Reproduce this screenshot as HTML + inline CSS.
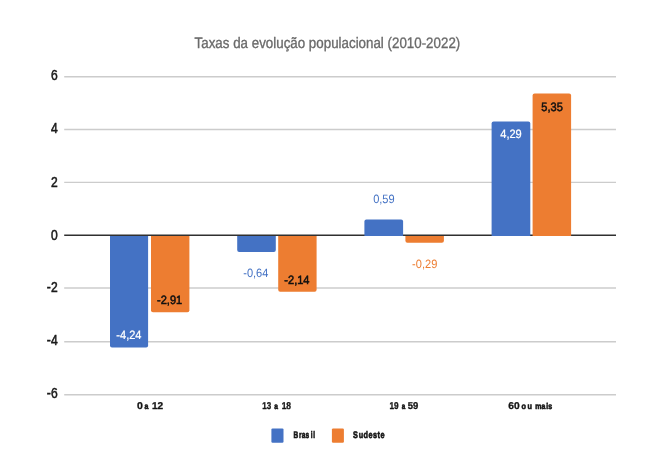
<!DOCTYPE html>
<html lang="pt-BR">
<head>
<meta charset="utf-8">
<title>Taxas da evolução populacional (2010-2022)</title>
<style>
html,body{margin:0;padding:0;background:#fff;}
body{width:652px;height:452px;overflow:hidden;position:relative;}
svg{display:block;position:absolute;left:0;top:0;}
text{font-family:"Liberation Sans",Arial,sans-serif;}
.ttl{font-size:15.2px;fill:#6a6a6a;stroke:#6a6a6a;stroke-width:0.35px;}
.yl{font-size:13.8px;fill:#1a1a1a;stroke:#1a1a1a;stroke-width:0.55px;text-anchor:end;}
.dl{font-size:12.1px;text-anchor:middle;}
.grid line{stroke:#cccccc;stroke-width:1.4;}
.tx text{font-size:9.9px;font-weight:bold;fill:#151515;stroke:#151515;stroke-width:0.3px;vector-effect:non-scaling-stroke;}
.tx text.lc{stroke-width:0.55px;vector-effect:non-scaling-stroke;}
</style>
</head>
<body>
<svg width="652" height="452" viewBox="0 0 652 452">
<rect x="0" y="0" width="652" height="452" fill="#ffffff"/>
<text class="ttl" transform="translate(194.6,47.9) scale(0.8789,1) skewX(0.1)">Taxas da evolução populacional (2010-2022)</text>
<g class="grid">
<line x1="64.2" x2="616" y1="76.7" y2="76.7"/>
<line x1="64.2" x2="616" y1="129.5" y2="129.5"/>
<line x1="64.2" x2="616" y1="182.35" y2="182.35"/>
<line x1="64.2" x2="616" y1="287.95" y2="287.95"/>
<line x1="64.2" x2="616" y1="341.8" y2="341.8"/>
<line x1="64.2" x2="616" y1="394.8" y2="394.8"/>
</g>
<g>
<text class="yl" transform="translate(57.6,79.6) scale(0.875,1)">6</text>
<text class="yl" transform="translate(57.6,132.5) scale(0.875,1)">4</text>
<text class="yl" transform="translate(57.6,186.6) scale(0.875,1)">2</text>
<text class="yl" transform="translate(57.6,239.5) scale(0.875,1)">0</text>
<text class="yl" transform="translate(57.6,292.3) scale(0.875,1)">-2</text>
<text class="yl" transform="translate(57.6,344.5) scale(0.875,1)">-4</text>
<text class="yl" transform="translate(57.6,397.6) scale(0.875,1)">-6</text>
</g>
<g fill="#4472c4">
<path d="M110 235.15H148.1V345.4a2 2 0 0 1 -2 2H112a2 2 0 0 1 -2 -2Z"/>
<path d="M237.2 235.15H275.8V250.1a2 2 0 0 1 -2 2H239.2a2 2 0 0 1 -2 -2Z"/>
</g>
<g fill="#ed7d31">
<path d="M151 235.15H189.4V310.2a2 2 0 0 1 -2 2H153a2 2 0 0 1 -2 -2Z"/>
<path d="M278.2 235.15H316.6V289.8a2 2 0 0 1 -2 2H280.2a2 2 0 0 1 -2 -2Z"/>
<path d="M405.4 235.15H443.9V240.8a2 2 0 0 1 -2 2H407.4a2 2 0 0 1 -2 -2Z"/>
</g>
<line x1="64.2" x2="616" y1="235.25" y2="235.25" stroke="#303030" stroke-width="1.5"/>
<g fill="#4472c4">
<path d="M364.4 235.9H403.1V221.5a2 2 0 0 0 -2 -2H366.4a2 2 0 0 0 -2 2Z"/>
<path d="M491.6 235.9H530.3V123.6a2 2 0 0 0 -2 -2H493.6a2 2 0 0 0 -2 2Z"/>
</g>
<g fill="#ed7d31">
<path d="M532.6 235.9H571.1V95.5a2 2 0 0 0 -2 -2H534.6a2 2 0 0 0 -2 2Z"/>
</g>

<g>
<text class="dl" transform="translate(128.9,338.8) scale(0.915,1) skewX(0.1)" fill="#ffffff" stroke="#ffffff" stroke-width="0.25">-4,24</text>
<text class="dl" transform="translate(169.6,303.7) scale(0.915,1) skewX(0.1)" fill="#111111" stroke="#111111" stroke-width="0.55">-2,91</text>
<text class="dl" transform="translate(255.8,277.3) scale(0.915,1) skewX(0.1)" fill="#4472c4">-0,64</text>
<text class="dl" transform="translate(296.9,283.8) scale(0.915,1) skewX(0.1)" fill="#111111" stroke="#111111" stroke-width="0.55">-2,14</text>
<text class="dl" transform="translate(383.9,202.6) scale(0.915,1) skewX(0.1)" fill="#4472c4">0,59</text>
<text class="dl" transform="translate(424.7,268.2) scale(0.915,1) skewX(0.1)" fill="#ed7d31">-0,29</text>
<text class="dl" transform="translate(511,138.2) scale(0.915,1) skewX(0.1)" fill="#ffffff" stroke="#ffffff" stroke-width="0.25">4,29</text>
<text class="dl" transform="translate(552.1,111.2) scale(0.915,1) skewX(0.1)" fill="#111111" stroke="#111111" stroke-width="0.55">5,35</text>
</g>
<g>
<rect x="271.4" y="428.4" width="12.1" height="14.3" rx="1.2" fill="#4472c4"/>
<rect x="331.9" y="428.4" width="12.0" height="14.3" rx="1.2" fill="#ed7d31"/>
</g>
<g class="tx"><text transform="translate(137.06,409.3) scale(1.069,1.0) skewX(0.1)">0</text> <text class="lc" transform="translate(144.57,409.3) scale(0.709,0.85) skewX(0.1)">a</text> <text transform="translate(151.95,409.3) scale(1.024,1.0) skewX(0.1)">12</text></g>
<g class="tx"><text transform="translate(262.28,409.3) scale(0.811,1.0) skewX(0.1)">13</text> <text class="lc" transform="translate(274.28,409.3) scale(0.672,0.85) skewX(0.1)">a</text> <text transform="translate(281.65,409.3) scale(0.857,1.0) skewX(0.1)">18</text></g>
<g class="tx"><text transform="translate(389.46,409.3) scale(0.832,1.0) skewX(0.1)">19</text> <text class="lc" transform="translate(401.69,409.3) scale(0.634,0.85) skewX(0.1)">a</text> <text transform="translate(407.69,409.3) scale(0.961,1.0) skewX(0.1)">59</text></g>
<g class="tx"><text transform="translate(508.30,409.3) scale(1.038,1.0) skewX(0.1)">60</text> <text class="lc" dx="0 2.17" transform="translate(521.49,409.3) scale(0.737,0.85) skewX(0.1)">ou</text> <text class="lc" dx="0 0 1.41" transform="translate(535.22,409.3) scale(0.709,0.85) skewX(0.1)">mais</text></g>
<g class="tx"><text class="lc" letter-spacing="0.30" dx="0 0.76 0 0 2.12 0.76" transform="translate(293.54,438.25) scale(0.660,0.96) skewX(0.1)">Brasil</text></g>
<g class="tx"><text class="lc" letter-spacing="0.61" dx="0 0.54" transform="translate(352.97,438.25) scale(0.740,0.96) skewX(0.1)">Sudeste</text></g>
</svg>
</body>
</html>
